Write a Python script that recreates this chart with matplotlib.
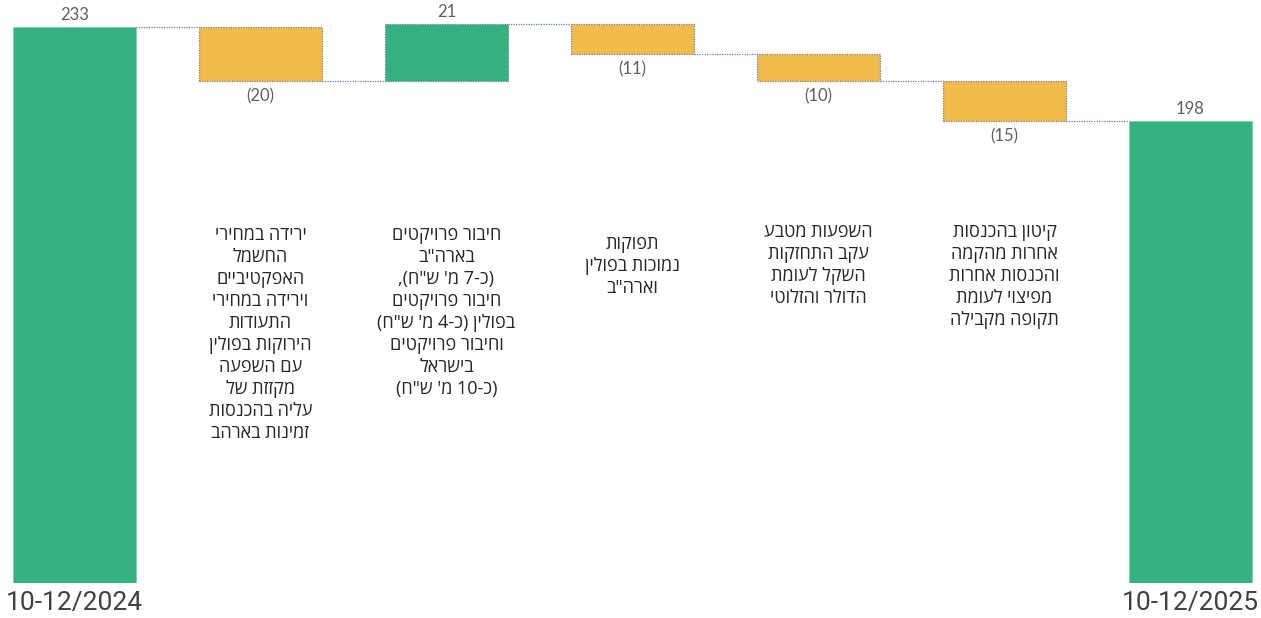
import re
import matplotlib
matplotlib.use("Agg")
import matplotlib.pyplot as plt
from matplotlib.transforms import blended_transform_factory

# ---- data ----
categories = ["10-12/2024", "", "", "", "", "", "10-12/2025"]
values = [233, -20, 21, -11, -10, -15, 198]
is_total = [True, False, False, False, False, False, True]
value_labels = ["233", "(20)", "21", "(11)", "(10)", "(15)", "198"]

notes = [
    [],
    ["ירידה במחירי", "החשמל", "האפקטיביים", "וירידה במחירי", "התעודות",
     "הירוקות בפולין", "עם השפעה", "מקזזת של", "עליה בהכנסות", "זמינות בארהב"],
    ["חיבור פרויקטים", "בארה\"ב", "(כ-7 מ' ש\"ח),", "חיבור פרויקטים",
     "בפולין (כ-4 מ' ש\"ח)", "וחיבור פרויקטים", "בישראל", "(כ-10 מ' ש\"ח)"],
    ["תפוקות", "נמוכות בפולין", "וארה\"ב"],
    ["השפעות מטבע", "עקב התחזקות", "השקל לעומת", "הדולר והזלוטי"],
    ["קיטון בהכנסות", "אחרות מהקמה", "והכנסות אחרות", "מפיצוי לעומת", "תקופה מקבילה"],
    [],
]
note_top_px = [0, 235, 235, 244, 232, 232, 0]


def visual(s):
    """Convert logical-order Hebrew line into visual (LTR drawing) order."""
    r = s[::-1]
    r = re.sub(r"\d+", lambda m: m.group(0)[::-1], r)
    return r.translate(str.maketrans("()", ")("))


GREEN = "#35B17F"
ORANGE = "#F0BB4A"
EDGE = "#6F8499"
LINE = "#5A86B5"
LABEL = "#5E5E5E"

W, H = 1261, 618
fig = plt.figure(figsize=(W / 100, H / 100), dpi=100)
ax = fig.add_axes([0, (H - 583) / H, 1, 583 / H])

bw = 0.66
x = list(range(len(values)))
bottoms, heights = [], []
level = 0
for v, tot in zip(values, is_total):
    if tot:
        bottoms.append(0)
        heights.append(v)
        level = v
    else:
        lo = min(level, level + v)
        bottoms.append(lo)
        heights.append(abs(v))
        level += v

for i in x:
    if is_total[i]:
        ax.bar(i, heights[i], bottom=bottoms[i], width=bw, color=GREEN,
               edgecolor="#7FCFAE", linewidth=0.6, zorder=2)
    else:
        col = GREEN if values[i] > 0 else ORANGE
        ax.bar(i, heights[i], bottom=bottoms[i], width=bw, color=col,
               edgecolor=EDGE, linewidth=0.9, linestyle=(0, (1, 1)), zorder=2)

# connectors
level = 0
ends = []
for v, tot in zip(values, is_total):
    level = v if tot else level + v
    ends.append(level)
for i in range(len(values) - 1):
    ax.plot([i + bw / 2, i + 1 - bw / 2], [ends[i], ends[i]], color=LINE,
            lw=0.9, ls=(0, (1, 1)), zorder=1)

# value labels
for i in x:
    top = bottoms[i] + heights[i]
    if values[i] >= 0:
        ax.annotate(value_labels[i], (i, top), xytext=(0, 3), textcoords="offset points",
                    ha="center", va="bottom", fontsize=12, color=LABEL,
                    family=["Lato", "DejaVu Sans"])
    else:
        ax.annotate(value_labels[i], (i, bottoms[i]), xytext=(0, -5), textcoords="offset points",
                    ha="center", va="top", fontsize=12, color=LABEL,
                    family=["Lato", "DejaVu Sans"])

# notes
tr = blended_transform_factory(ax.transData, fig.dpi_scale_trans)
for i, lines in enumerate(notes):
    for j, ln in enumerate(lines):
        ypx = note_top_px[i] + j * 22
        ax.text(i, (H - ypx) / 100, visual(ln), transform=tr, ha="center", va="center",
                fontsize=13, color="#262626",
                family=["Open Sans", "Liberation Sans", "DejaVu Sans"])

ax.set_xlim(-0.4005, 6.379)
ax.set_ylim(27, 243)
for s in ax.spines.values():
    s.set_visible(False)
ax.set_yticks([])
ax.set_xticks([0, 6])
ax.set_xticklabels([categories[0], categories[6]], fontsize=19, color="#404040",
                   family=["Roboto", "DejaVu Sans"])
ax.tick_params(axis="x", length=0, pad=6)

fig.savefig("out.png", dpi=100)
